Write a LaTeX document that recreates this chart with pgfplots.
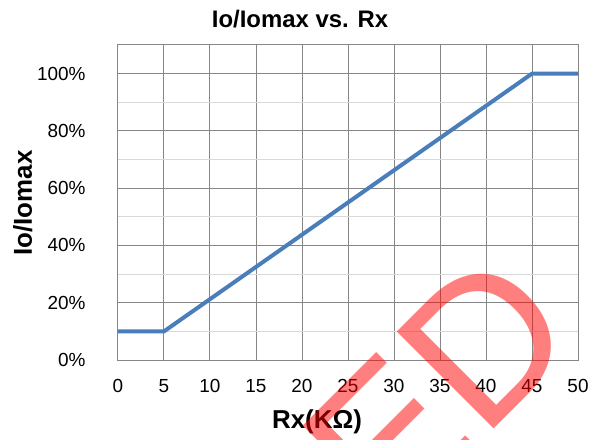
\documentclass[border=0pt]{standalone}
\usepackage{fontspec}
\setmainfont{Liberation Sans}
\usepackage{pgfplots}
\pgfplotsset{compat=1.18}
\definecolor{lineblue}{RGB}{74,126,187}
\definecolor{majgrid}{RGB}{134,134,134}
\definecolor{mingrid}{RGB}{217,217,217}
\begin{document}
\begin{tikzpicture}
\useasboundingbox (-118bp,-80bp) rectangle (479bp,360bp);
\begin{axis}[
  at={(0,0)}, anchor=south west,
  width=460bp, height=315bp, scale only axis,
  xmin=0, xmax=50, ymin=0, ymax=110,
  xtick={0,5,...,50},
  ytick={0,20,...,100},
  minor ytick={10,30,...,90},
  grid=both,
  major grid style={majgrid, line width=1bp},
  minor grid style={mingrid, line width=1bp},
  axis line style={majgrid, line width=1bp},
  tick style={draw=none},
  /pgf/number format/assume math mode=true,
  yticklabel={\pgfmathprintnumber{\tick}\%},
  tick label style={font=\fontsize{19}{22}\selectfont},
  xticklabel style={yshift=-16bp},
  yticklabel style={xshift=-29bp},
  every axis title shift=0pt,
  title={\textbf{Io/Iomax vs. Rx}},
  title style={at={(axis description cs:0.3957,1.054)}, anchor=base, font=\fontsize{24}{28}\selectfont\bfseries},
  xlabel={Rx(KΩ)},
  xlabel style={at={(axis description cs:0.4326,-0.2159)}, anchor=base, font=\fontsize{26}{30}\selectfont\bfseries},
  ylabel={Io/Iomax},
  ylabel style={at={(axis description cs:-0.187,0.498)}, anchor=base, font=\fontsize{26}{30}\selectfont\bfseries},
]
\addplot[lineblue, line width=4bp, line join=round] coordinates {(0,10) (5,10) (45,100) (50,100)};
\end{axis}
\node[rotate=45, anchor=base west, inner sep=0pt, text=red, text opacity=0.5, font=\fontsize{200}{200}\selectfont] at (270bp,-175bp) {ED};
\end{tikzpicture}
\end{document}
